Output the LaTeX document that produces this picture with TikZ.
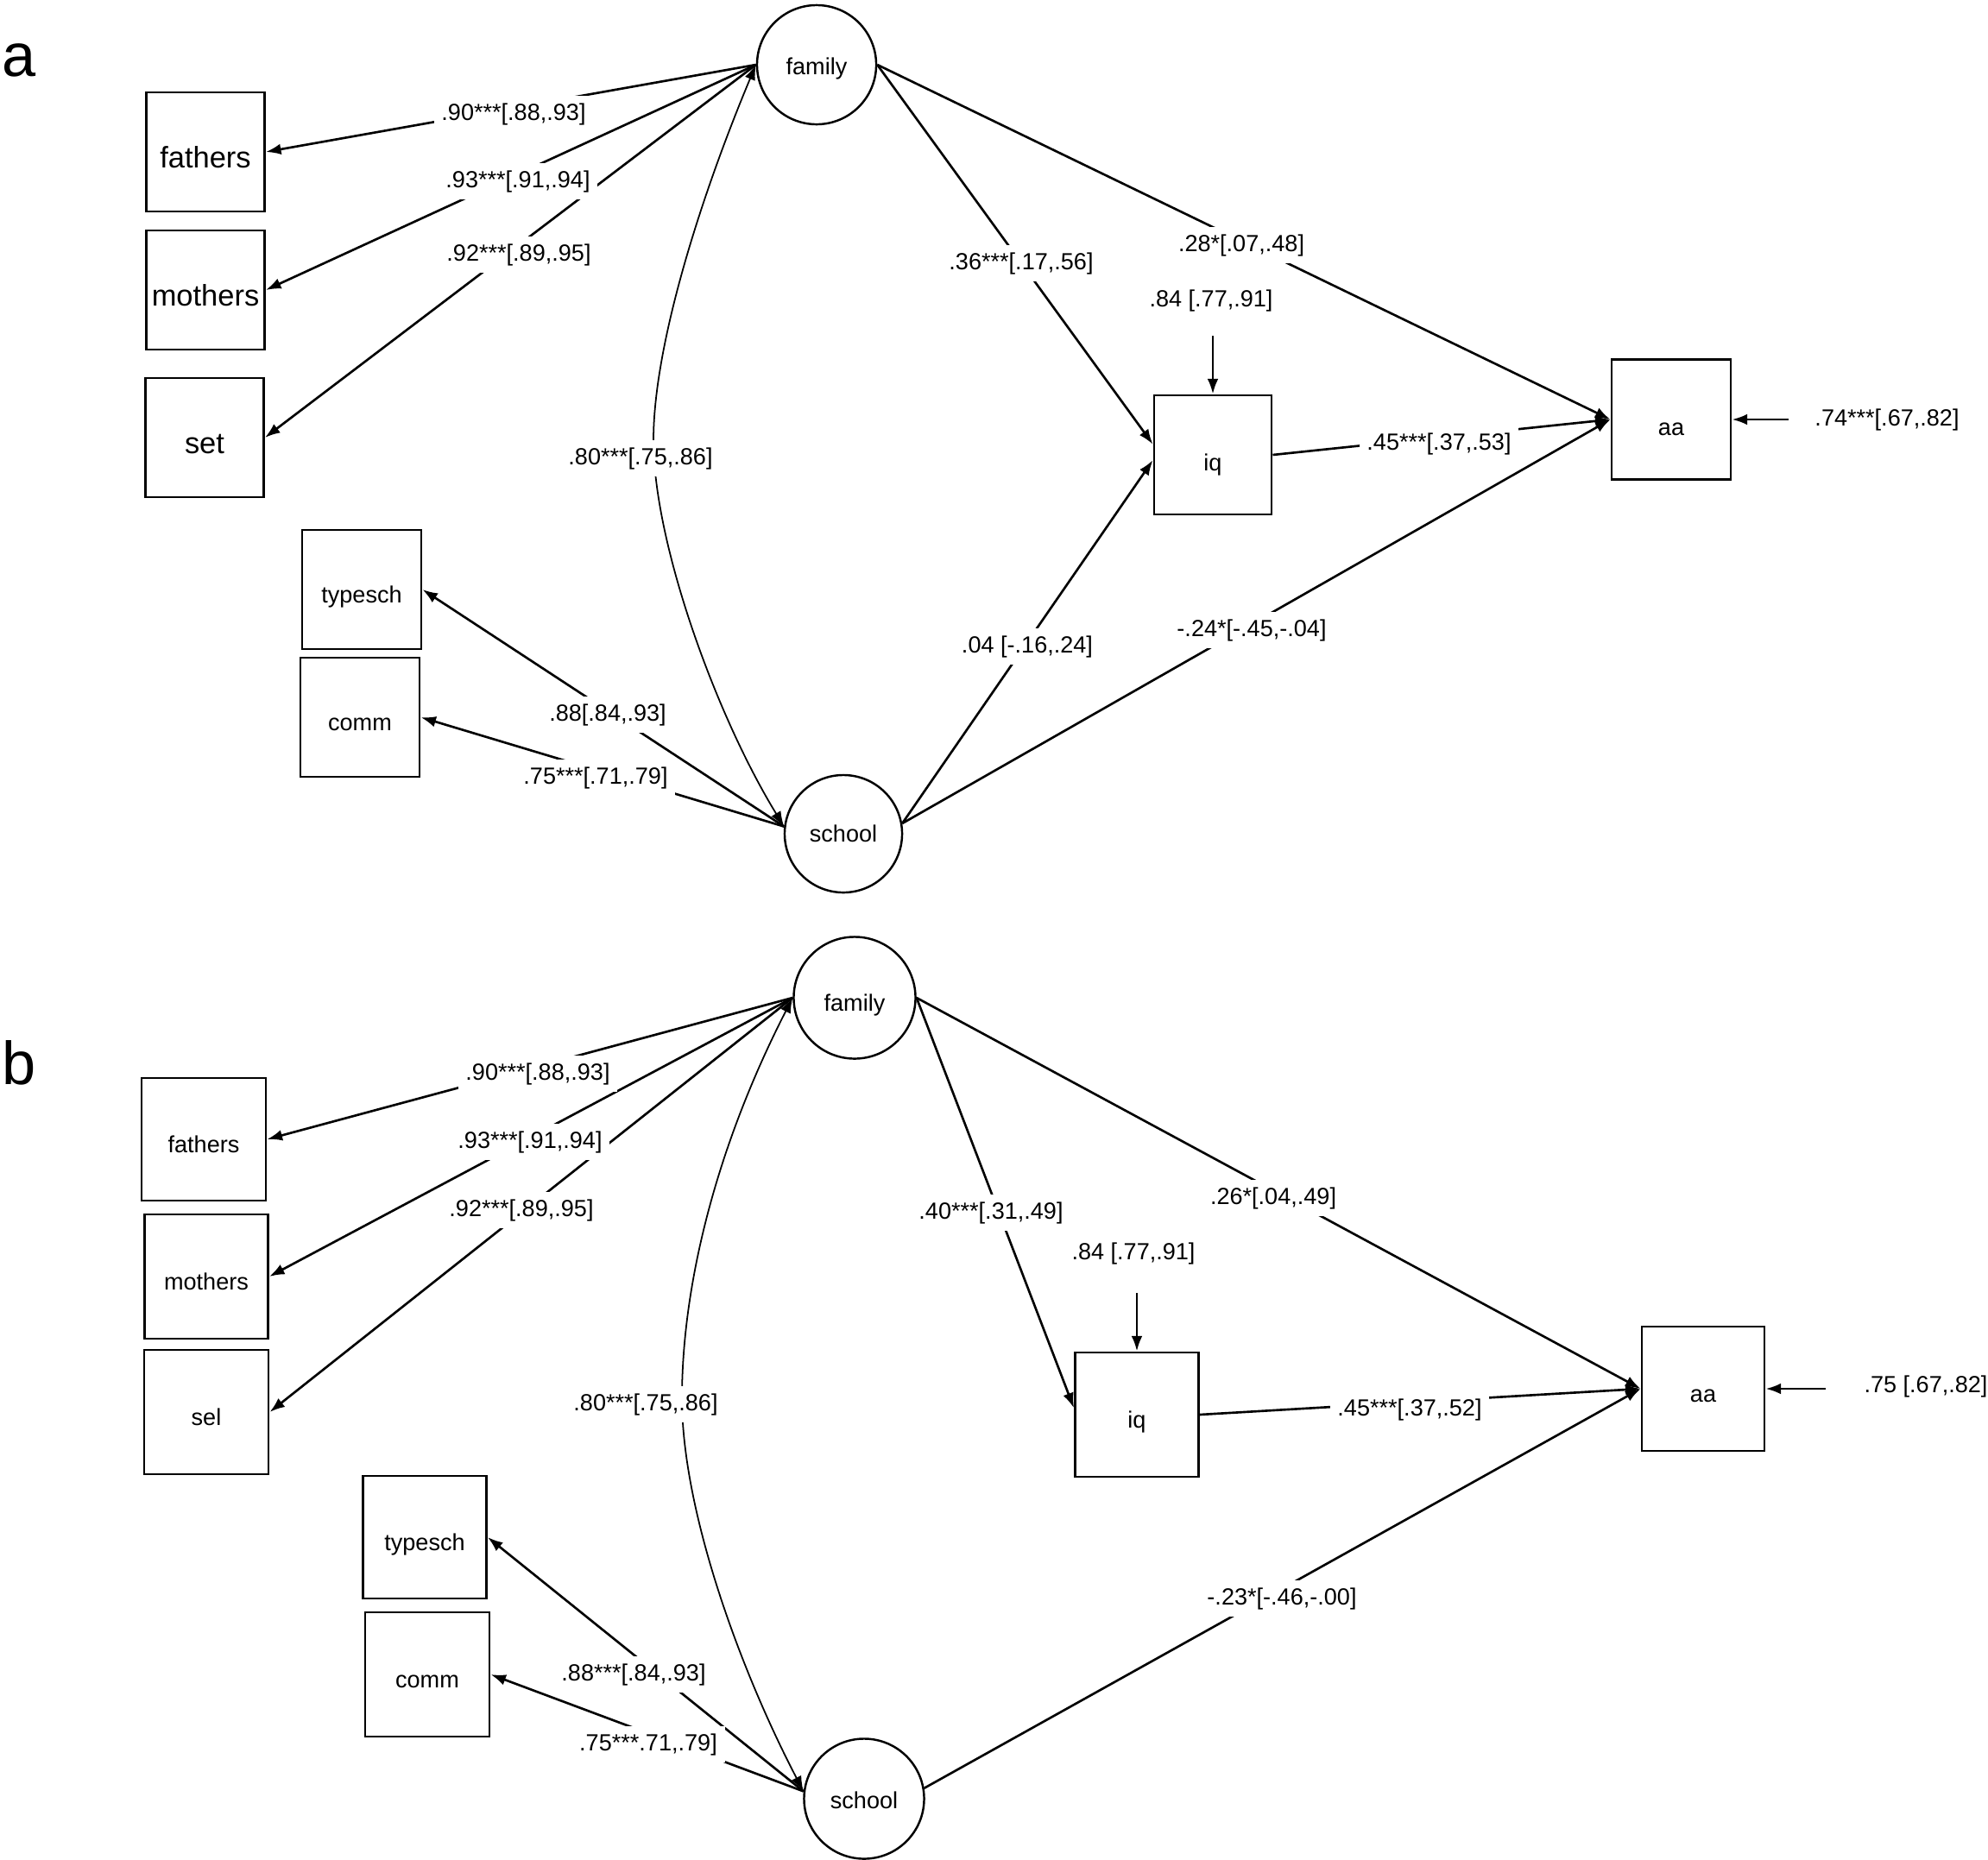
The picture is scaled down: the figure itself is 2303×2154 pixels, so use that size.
\documentclass[tikz,border=0pt]{standalone}
\usepackage{fontspec}
\setmainfont{Liberation Sans}
\usetikzlibrary{arrows.meta}
\newcommand\lblsize{\fontsize{7.7pt}{9pt}\selectfont}
\newcommand\bigsize{\fontsize{9.8pt}{11pt}\selectfont}
\newcommand\panelsize{\fontsize{20pt}{24pt}\selectfont}
\begin{document}
\begin{tikzpicture}[x=0.01cm,y=-0.01cm,
  obs/.style={draw,line width=0.8pt,rectangle,inner sep=0pt,font=\lblsize,text height=8.6pt,text depth=0pt},
  bigobs/.style={obs,font=\bigsize,text height=10.4pt},
  lowobs/.style={obs,text height=10.6pt},
  lat/.style={draw,circle,line width=0.7pt,inner sep=0pt,font=\lblsize},
  lbl/.style={fill=white,inner sep=2.5pt,font=\lblsize},
  elbl/.style={inner sep=1pt,font=\lblsize},
  pth/.style={-{Latex[length=5pt,width=3.6pt]},line width=0.75pt},
  cor/.style={{Latex[length=5pt,width=3.6pt]}-{Latex[length=5pt,width=3.6pt]},line width=0.5pt},
  pnl/.style={font=\panelsize,inner sep=0pt,anchor=base west}]
\useasboundingbox (0,0) rectangle (2303,2154);

% ---------------- panel a ----------------
\node[pnl] (pa) at (2,88) {a};
\node[lat,minimum size=1.38cm,text height=6.6pt,text depth=0pt] (famA) at (946,75) {family};
\node[lat,minimum size=1.36cm] (schA) at (977,966) {school};
\node[bigobs,minimum width=1.37cm,minimum height=1.38cm] (fatA) at (238,176) {fathers};
\node[bigobs,minimum width=1.37cm,minimum height=1.38cm] (motA) at (238,336) {mothers};
\node[bigobs,minimum width=1.37cm,minimum height=1.38cm] (setA) at (237,507) {set};
\node[obs,minimum width=1.38cm,minimum height=1.38cm] (typA) at (419,683) {typesch};
\node[obs,minimum width=1.38cm,minimum height=1.38cm] (comA) at (417,831) {comm};
\node[lowobs,minimum width=1.36cm,minimum height=1.38cm] (iqA) at (1405,527) {iq};
\node[lowobs,minimum width=1.38cm,minimum height=1.39cm] (aaA) at (1936,486) {aa};
\coordinate (eiqA) at (1405,389);
\coordinate (eaaA) at (2072,486);

\draw[pth] (famA.west) -- (fatA.east);
\draw[pth] (famA.west) -- (motA.east);
\draw[pth] (famA.west) -- (setA.east);
\draw[pth] (schA.173) -- (typA.east);
\draw[pth] (schA.173) -- (comA.east);
\draw[pth] (famA.east) -- (iqA.170);
\draw[pth] (schA.10) -- (iqA.185);
\draw[pth] (famA.east) -- (aaA.west);
\draw[pth] (iqA.east) -- (aaA.west);
\draw[pth] (schA.10) -- (aaA.west);
\draw[pth] (eiqA) -- (iqA.north);
\draw[pth] (eaaA) -- (aaA.east);
\draw[cor] (famA.west) .. controls (812,227) and (757,400) .. (757,510)
  .. controls (757,630) and (830,830) .. (schA.173);

\node[lbl] (a1) at (595,132) {.90***[.88,.93]};
\node[lbl] (a2) at (600,210) {.93***[.91,.94]};
\node[lbl] (a3) at (601,295) {.92***[.89,.95]};
\node[lbl] (a4) at (742,531) {.80***[.75,.86]};
\node[lbl] (a5) at (704,828) {.88[.84,.93]};
\node[lbl] (a6) at (690,901) {.75***[.71,.79]};
\node[lbl] (a7) at (1183,305) {.36***[.17,.56]};
\node[lbl] (a8) at (1438,284) {.28*[.07,.48]};
\node[elbl] (a9) at (1403,348) {.84 [.77,.91]};
\node[lbl] (a10) at (1667,514) {.45***[.37,.53]};
\node[elbl] (a11) at (2186,486) {.74***[.67,.82]};
\node[lbl] (a12) at (1190,749) {.04 [-.16,.24]};
\node[lbl] (a13) at (1450,730) {-.24*[-.45,-.04]};

% ---------------- panel b ----------------
\node[pnl] (pb) at (2,1256) {b};
\node[lat,minimum size=1.41cm,text height=9pt,text depth=0pt] (famB) at (990,1156) {family};
\node[lat,minimum size=1.39cm,text height=6.6pt,text depth=0pt] (schB) at (1001,2084) {school};
\node[obs,minimum width=1.44cm,minimum height=1.42cm] (fatB) at (236,1320) {fathers};
\node[obs,minimum width=1.43cm,minimum height=1.44cm] (motB) at (239,1479) {mothers};
\node[obs,minimum width=1.44cm,minimum height=1.44cm] (selB) at (239,1636) {sel};
\node[obs,minimum width=1.43cm,minimum height=1.42cm] (typB) at (492,1781) {typesch};
\node[obs,minimum width=1.44cm,minimum height=1.44cm] (comB) at (495,1940) {comm};
\node[obs,minimum width=1.43cm,minimum height=1.44cm] (iqB) at (1317,1639) {iq};
\node[obs,minimum width=1.42cm,minimum height=1.44cm] (aaB) at (1973,1609) {aa};
\coordinate (eiqB) at (1317,1498);
\coordinate (eaaB) at (2115,1609);

\draw[pth] (famB.west) -- (fatB.east);
\draw[pth] (famB.west) -- (motB.east);
\draw[pth] (famB.west) -- (selB.east);
\draw[pth] (schB.173) -- (typB.east);
\draw[pth] (schB.173) -- (comB.east);
\draw[pth] (famB.east) -- (iqB.174);
\draw[pth] (famB.east) -- (aaB.west);
\draw[pth] (iqB.east) -- (aaB.west);
\draw[pth] (schB.10) -- (aaB.west);
\draw[pth] (eiqB) -- (iqB.north);
\draw[pth] (eaaB) -- (aaB.east);
\draw[cor] (famB.west) .. controls (824,1340) and (790,1500) .. (790,1620)
  .. controls (790,1750) and (857,1934) .. (schB.173);

\node[lbl] (b1) at (623,1244) {.90***[.88,.93]};
\node[lbl] (b2) at (614,1323) {.93***[.91,.94]};
\node[lbl] (b3) at (604,1402) {.92***[.89,.95]};
\node[lbl] (b4) at (748,1627) {.80***[.75,.86]};
\node[lbl] (b5) at (734,1940) {.88***[.84,.93]};
\node[lbl] (b6) at (751,2021) {.75***.71,.79]};
\node[lbl] (b7) at (1148,1405) {.40***[.31,.49]};
\node[lbl] (b8) at (1475,1388) {.26*[.04,.49]};
\node[elbl] (b9) at (1313,1452) {.84 [.77,.91]};
\node[lbl] (b10) at (1633,1633) {.45***[.37,.52]};
\node[elbl] (b11) at (2231,1606) {.75 [.67,.82]};
\node[lbl] (b12) at (1485,1852) {-.23*[-.46,-.00]};
\end{tikzpicture}
\end{document}
